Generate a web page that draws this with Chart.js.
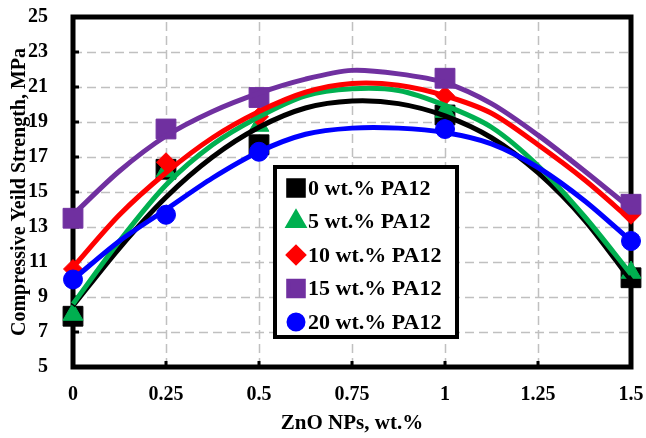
<!DOCTYPE html>
<html>
<head>
<meta charset="utf-8">
<script src="https://cdn.jsdelivr.net/npm/chart.js@4.4.0/dist/chart.umd.min.js"></script>
<style>
  html, body { margin: 0; padding: 0; background: #fff; }
  #wrap { width: 646px; height: 438px; }
</style>
</head>
<body>
<div id="wrap"><canvas id="yieldChart" width="646" height="438"></canvas></div>
<script>
// measured points (ZnO wt.%)
const znoLevels = [0, 0.25, 0.5, 1, 1.5];
const pa0 = [7.9, 16.3, 17.7, 19.4, 10.1];
const pa5 = [8.0, 16.2, 18.8, 19.6, 10.4];
const pa10 = [10.6, 16.7, 19.3, 20.5, 13.7];
const pa15 = [13.5, 18.6, 20.4, 21.5, 14.3];
const pa20 = [10.0, 13.7, 17.3, 18.6, 12.2];

// trendline values every 0.125
const curveX = [0, 0.125, 0.25, 0.375, 0.5, 0.625, 0.75, 0.875, 1, 1.125, 1.25, 1.375, 1.5];
const fit0 = [8.5, 11.8, 14.7, 17.0, 18.7, 19.8, 20.2, 20.05, 19.35, 18.1, 16.1, 13.4, 9.95];
const fit5 = [8.6, 12.2, 15.4, 17.7, 19.3, 20.5, 20.9, 20.8, 19.95, 18.7, 16.5, 13.6, 10.3];
const fit10 = [10.7, 13.7, 16.1, 18.1, 19.6, 20.7, 21.2, 21.1, 20.5, 19.5, 17.7, 15.7, 13.4];
const fit15 = [13.7, 16.2, 18.2, 19.6, 20.65, 21.45, 21.95, 21.75, 21.25, 20.05, 18.25, 16.2, 14.05];
const fit20 = [10.0, 12.2, 14.0, 15.8, 17.3, 18.3, 18.65, 18.65, 18.4, 17.75, 16.4, 14.5, 12.2];

const seriesNames = ['0 wt.% PA12', '5 wt.% PA12', '10 wt.% PA12', '15 wt.% PA12', '20 wt.% PA12'];
const xTicks = [0, 0.25, 0.5, 0.75, 1, 1.25, 1.5];
const yTicks = [5, 7, 9, 11, 13, 15, 17, 19, 21, 23, 25];

const colors = ['#000000', '#00B050', '#FF0000', '#7030A0', '#0000FF'];
const styles = ['rect', 'triangle', 'rectRot', 'rect', 'circle'];
const radii = [14, 11.5, 9.5, 14, 9.5];
const legendRadii = [11, 9.2, 8, 11, 7.5];

const points = [pa0, pa5, pa10, pa15, pa20];
const fits = [fit0, fit5, fit10, fit15, fit20];

const FONT = "'Liberation Serif', 'Times New Roman', serif";

const datasets = [];
fits.forEach((arr, i) => {
  datasets.push({
    type: 'line',
    label: seriesNames[i] + ' fit',
    data: curveX.map((x, k) => ({ x: x, y: arr[k] })),
    borderColor: colors[i],
    borderWidth: 5,
    pointRadius: 0,
    tension: 0.3,
    fill: false,
    clip: false,
    order: 10 - i
  });
});
points.forEach((arr, i) => {
  datasets.push({
    type: 'scatter',
    label: seriesNames[i],
    data: znoLevels.map((x, k) => ({ x: x, y: arr[k] })),
    pointStyle: styles[i],
    pointRadius: radii[i],
    backgroundColor: colors[i],
    borderColor: colors[i],
    borderWidth: 1,
    showLine: false,
    clip: false,
    order: 20 - i
  });
});

// dashed grid, plot frame and inward tick marks
const framePlugin = {
  id: 'frame',
  beforeDatasetsDraw(chart) {
    const { ctx, chartArea: a, scales } = chart;
    ctx.save();
    ctx.strokeStyle = '#C0C0C0';
    ctx.lineWidth = 1.5;
    ctx.setLineDash([9, 5]);
    ctx.beginPath();
    yTicks.slice(1, -1).forEach(v => {
      const py = Math.round(scales.y.getPixelForValue(v)) + 0.5;
      ctx.moveTo(a.left, py); ctx.lineTo(a.right, py);
    });
    xTicks.slice(1, -1).forEach(v => {
      const px = Math.round(scales.x.getPixelForValue(v)) + 0.5;
      ctx.moveTo(px, a.bottom); ctx.lineTo(px, a.top);
    });
    ctx.stroke();
    ctx.setLineDash([]);

    ctx.strokeStyle = '#000';
    ctx.lineWidth = 3;
    ctx.beginPath();
    yTicks.forEach(v => {
      const py = scales.y.getPixelForValue(v);
      ctx.moveTo(a.left, py); ctx.lineTo(a.left + 6, py);
    });
    xTicks.forEach(v => {
      const px = scales.x.getPixelForValue(v);
      ctx.moveTo(px, a.bottom); ctx.lineTo(px, a.bottom - 6);
    });
    ctx.stroke();
    ctx.lineWidth = 5;
    ctx.strokeRect(a.left, a.top, a.right - a.left, a.bottom - a.top);
    ctx.restore();
  }
};

// boxed legend inside the plot
const legendPlugin = {
  id: 'boxLegend',
  afterDatasetsDraw(chart) {
    const { ctx, chartArea: a } = chart;
    const bx = a.left + 202, by = a.top + 150, bw = 182, bh = 170;
    ctx.save();
    ctx.fillStyle = '#fff';
    ctx.fillRect(bx, by, bw, bh);
    ctx.strokeStyle = '#000';
    ctx.lineWidth = 4;
    ctx.strokeRect(bx, by, bw, bh);
    ctx.font = 'bold 22px ' + FONT;
    ctx.textBaseline = 'middle';
    ctx.textAlign = 'left';
    seriesNames.forEach((name, i) => {
      const cy = by + 21 + i * 33.5;
      ctx.fillStyle = colors[i];
      ctx.strokeStyle = colors[i];
      Chart.helpers.drawPoint(ctx, { pointStyle: styles[i], radius: legendRadii[i], rotation: 0, borderWidth: 1 }, bx + 21, cy);
      ctx.fillStyle = '#000';
      ctx.fillText(name, bx + 33, cy + 1);
    });
    ctx.restore();
  }
};

const ctx = document.getElementById('yieldChart').getContext('2d');
new Chart(ctx, {
  type: 'scatter',
  data: { datasets: datasets },
  options: {
    responsive: false,
    animation: false,
    layout: { padding: { top: 17, right: 14, left: 0, bottom: 0 } },
    plugins: {
      legend: { display: false },
      tooltip: { enabled: false }
    },
    scales: {
      x: {
        type: 'linear',
        min: 0,
        max: 1.5,
        afterBuildTicks: scale => { scale.ticks = xTicks.map(v => ({ value: v })); },
        afterFit: scale => {
          scale.height = 71;
          scale.paddingLeft = 0;
          scale.paddingRight = 0;
        },
        ticks: {
          color: '#000',
          padding: 8,
          maxRotation: 0,
          autoSkip: false,
          callback: v => String(v),
          font: { family: FONT, size: 20, weight: 'bold' }
        },
        grid: { display: false },
        border: { display: false },
        title: {
          display: true,
          text: 'ZnO NPs, wt.%',
          color: '#000',
          padding: { top: 0, bottom: 2 },
          font: { family: FONT, size: 21, weight: 'bold' }
        }
      },
      y: {
        type: 'linear',
        min: 5,
        max: 25,
        afterBuildTicks: scale => { scale.ticks = yTicks.map(v => ({ value: v })); },
        afterFit: scale => {
          scale.width = 73;
          scale.paddingTop = 0;
          scale.paddingBottom = 0;
        },
        ticks: {
          color: '#000',
          padding: 17,
          autoSkip: false,
          font: { family: FONT, size: 20, weight: 'bold' }
        },
        grid: { display: false },
        border: { display: false },
        title: {
          display: true,
          text: 'Compressive Yeild Strength, MPa',
          color: '#000',
          padding: { top: 8, bottom: 0 },
          font: { family: FONT, size: 20, weight: 'bold' }
        }
      }
    }
  },
  plugins: [framePlugin, legendPlugin]
});
</script>
</body>
</html>
